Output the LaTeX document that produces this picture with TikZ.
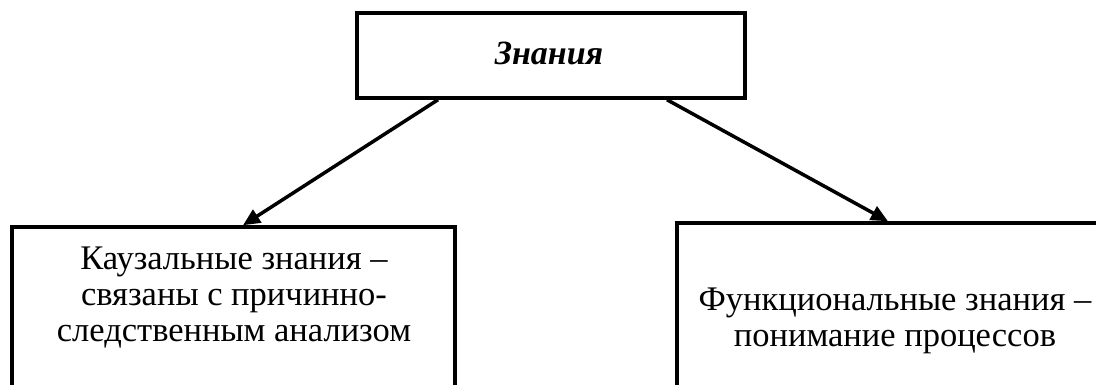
\documentclass[tikz,border=0pt]{standalone}
\usepackage{fontspec}
\setmainfont{Liberation Serif}
\usetikzlibrary{arrows.meta}
\begin{document}
\begin{tikzpicture}[x=1pt,y=-1pt,
  box/.style={draw,line width=3.5pt,rectangle,inner sep=0pt},
  lbl/.style={inner sep=0pt,align=center,font=\fontsize{34.5}{36}\selectfont},
  conn/.style={line width=3.5pt,-{Triangle[length=17pt,width=15pt]}}]
\clip (0,0) rectangle (1096,385);
\node[box,minimum width=388pt,minimum height=85pt] (top) at (551,55.5) {};
\node[box,minimum width=443pt,minimum height=200pt] (left) at (233.5,327) {};
\node[box,minimum width=443pt,minimum height=200pt] (right) at (898.5,323) {};
\node[lbl,anchor=base,font=\fontsize{34}{35}\selectfont\bfseries\itshape] (toptext) at (549,65) {Знания};
\node[lbl] (lefttext) at (234,298) {Каузальные знания –\\связаны с причинно-\\следственным анализом};
\node[lbl] (righttext) at (895,321) {Функциональные знания –\\понимание процессов};
\draw[conn] ([xshift=-113pt]top.south) -- ([xshift=9.5pt]left.north);
\draw[conn] ([xshift=116pt]top.south) -- ([xshift=-10.5pt]right.north);
\end{tikzpicture}
\end{document}
